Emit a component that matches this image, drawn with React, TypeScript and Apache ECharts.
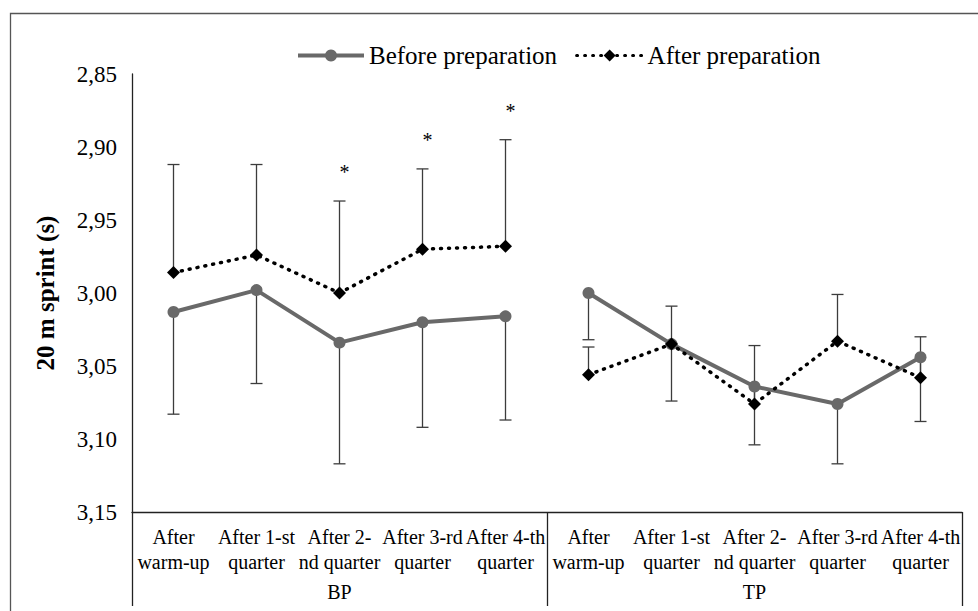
import React, { useEffect, useRef } from "react";
import * as echarts from "echarts";

const categories = [
  "After\nwarm-up",
  "After 1-st\nquarter",
  "After 2-\nnd quarter",
  "After 3-rd\nquarter",
  "After 4-th\nquarter",
  "After\nwarm-up",
  "After 1-st\nquarter",
  "After 2-\nnd quarter",
  "After 3-rd\nquarter",
  "After 4-th\nquarter",
];
const groups = ["BP", "TP"];

const beforeBP = [3.013, 2.998, 3.034, 3.02, 3.016];
const beforeTP = [3.0, 3.035, 3.064, 3.076, 3.044];
const afterBP = [2.986, 2.974, 3.0, 2.97, 2.968];
const afterTP = [3.056, 3.035, 3.076, 3.033, 3.058];

const beforeSD = [0.07, 0.064, 0.083, 0.072, 0.071, 0.032, 0.039, 0.04, 0.041, 0.044];
const afterSD = [0.074, 0.062, 0.063, 0.055, 0.073, 0.019, 0.026, 0.04, 0.032, 0.028];
const significant = [0, 0, 1, 1, 1, 0, 0, 0, 0, 0];

const yTicks = { min: 2.85, max: 3.15, interval: 0.05 };

const FONT = "Liberation Serif, serif";
const BEFORE_COLOR = "#696969";
const ERR_COLOR = "#3c3c3c";

export default function App() {
  const ref = useRef<HTMLDivElement>(null);

  useEffect(() => {
    if (!ref.current) return;
    const chart = echarts.init(ref.current, undefined, { renderer: "svg" });

    const nulls = [null, null, null, null, null];
    const beforeAll = [...beforeBP, ...beforeTP];
    const afterAll = [...afterBP, ...afterTP];
    const beforeErr = beforeAll.map((v, i) => [i, v, v + beforeSD[i], 0]);
    const afterErr = afterAll.map((v, i) => [i, v, v - afterSD[i], significant[i]]);

    const errRender = (params: any, api: any) => {
      const p = api.coord([api.value(0), api.value(1)]);
      const e = api.coord([api.value(0), api.value(2)]);
      const style = { stroke: ERR_COLOR, lineWidth: 1.3 };
      const children: any[] = [
        { type: "line", shape: { x1: p[0], y1: p[1], x2: e[0], y2: e[1] }, style },
        { type: "line", shape: { x1: e[0] - 6, y1: e[1], x2: e[0] + 6, y2: e[1] }, style },
      ];
      if (api.value(3) === 1) {
        children.push({
          type: "text",
          style: {
            text: "*",
            x: e[0] + 5,
            y: e[1] - 29,
            align: "center",
            verticalAlign: "middle",
            fontFamily: FONT,
            fontSize: 20,
            fill: "#000",
          },
        });
      }
      return { type: "group", children };
    };

    const beforeLine = {
      type: "line",
      name: "Before preparation",
      symbol: "circle",
      symbolSize: 12,
      lineStyle: { color: BEFORE_COLOR, width: 4 },
      itemStyle: { color: BEFORE_COLOR },
      z: 3,
    };
    const afterLine = {
      type: "line",
      name: "After preparation",
      symbol: "diamond",
      symbolSize: 13,
      lineStyle: { color: "#000", width: 3.5, type: [1, 7], cap: "round" },
      itemStyle: { color: "#000" },
      z: 4,
    };

    chart.setOption({
      animation: false,
      textStyle: { fontFamily: FONT },
      graphic: [
        {
          type: "rect",
          left: 8,
          top: 11,
          shape: { width: 1000, height: 700 },
          style: { fill: "none", stroke: "#555", lineWidth: 1.3 },
          silent: true,
        },
      ],
      legend: {
        data: [
          { name: "Before preparation", lineStyle: { width: 4 } },
          { name: "After preparation", lineStyle: { width: 3 } },
        ],
        left: 291,
        top: 38,
        itemWidth: 66,
        itemHeight: 15,
        itemGap: 18,
        textStyle: { fontFamily: FONT, fontSize: 25, color: "#000" },
      },
      grid: { left: 132, top: 74, right: 16, bottom: 99, containLabel: false },
      xAxis: [
        {
          type: "category",
          data: categories,
          boundaryGap: true,
          axisLine: { onZero: false, lineStyle: { color: "#222", width: 1.3 } },
          axisTick: {
            show: true,
            length: 94,
            interval: (i: number) => i % 5 === 0,
            lineStyle: { color: "#222", width: 1.3 },
          },
          axisLabel: {
            interval: 0,
            margin: 12,
            fontFamily: FONT,
            fontSize: 20,
            lineHeight: 25,
            color: "#000",
          },
        },
        {
          type: "category",
          data: groups,
          position: "bottom",
          boundaryGap: true,
          axisLine: { show: false, onZero: false },
          axisTick: { show: false },
          axisLabel: {
            interval: 0,
            margin: 67,
            fontFamily: FONT,
            fontSize: 20,
            lineHeight: 25,
            color: "#000",
          },
        },
      ],
      yAxis: {
        type: "value",
        inverse: true,
        min: yTicks.min,
        max: yTicks.max,
        interval: yTicks.interval,
        name: "20 m sprint (s)",
        nameLocation: "middle",
        nameGap: 74,
        nameTextStyle: { fontFamily: FONT, fontSize: 25, fontWeight: "bold", color: "#000" },
        axisLine: { show: true, lineStyle: { color: "#222", width: 1.3 } },
        axisTick: { show: false },
        splitLine: { show: false },
        axisLabel: {
          margin: 15,
          fontFamily: FONT,
          fontSize: 23,
          color: "#000",
          formatter: (v: number) => v.toFixed(2).replace(".", ","),
        },
      },
      series: [
        {
          type: "custom",
          name: "errBefore",
          data: beforeErr,
          renderItem: errRender,
          encode: { x: 0, y: [1, 2] },
          z: 2,
          silent: true,
        },
        {
          type: "custom",
          name: "errAfter",
          data: afterErr,
          renderItem: errRender,
          encode: { x: 0, y: [1, 2] },
          z: 2,
          silent: true,
        },
        { ...beforeLine, data: [...beforeBP, ...nulls] },
        { ...beforeLine, data: [...nulls, ...beforeTP] },
        { ...afterLine, data: [...afterBP, ...nulls] },
        { ...afterLine, data: [...nulls, ...afterTP] },
      ],
    });

    return () => chart.dispose();
  }, []);

  return (
    <div
      ref={ref}
      style={{ position: "fixed", left: 0, top: 0, width: 978, height: 611, background: "#fff" }}
    />
  );
}
